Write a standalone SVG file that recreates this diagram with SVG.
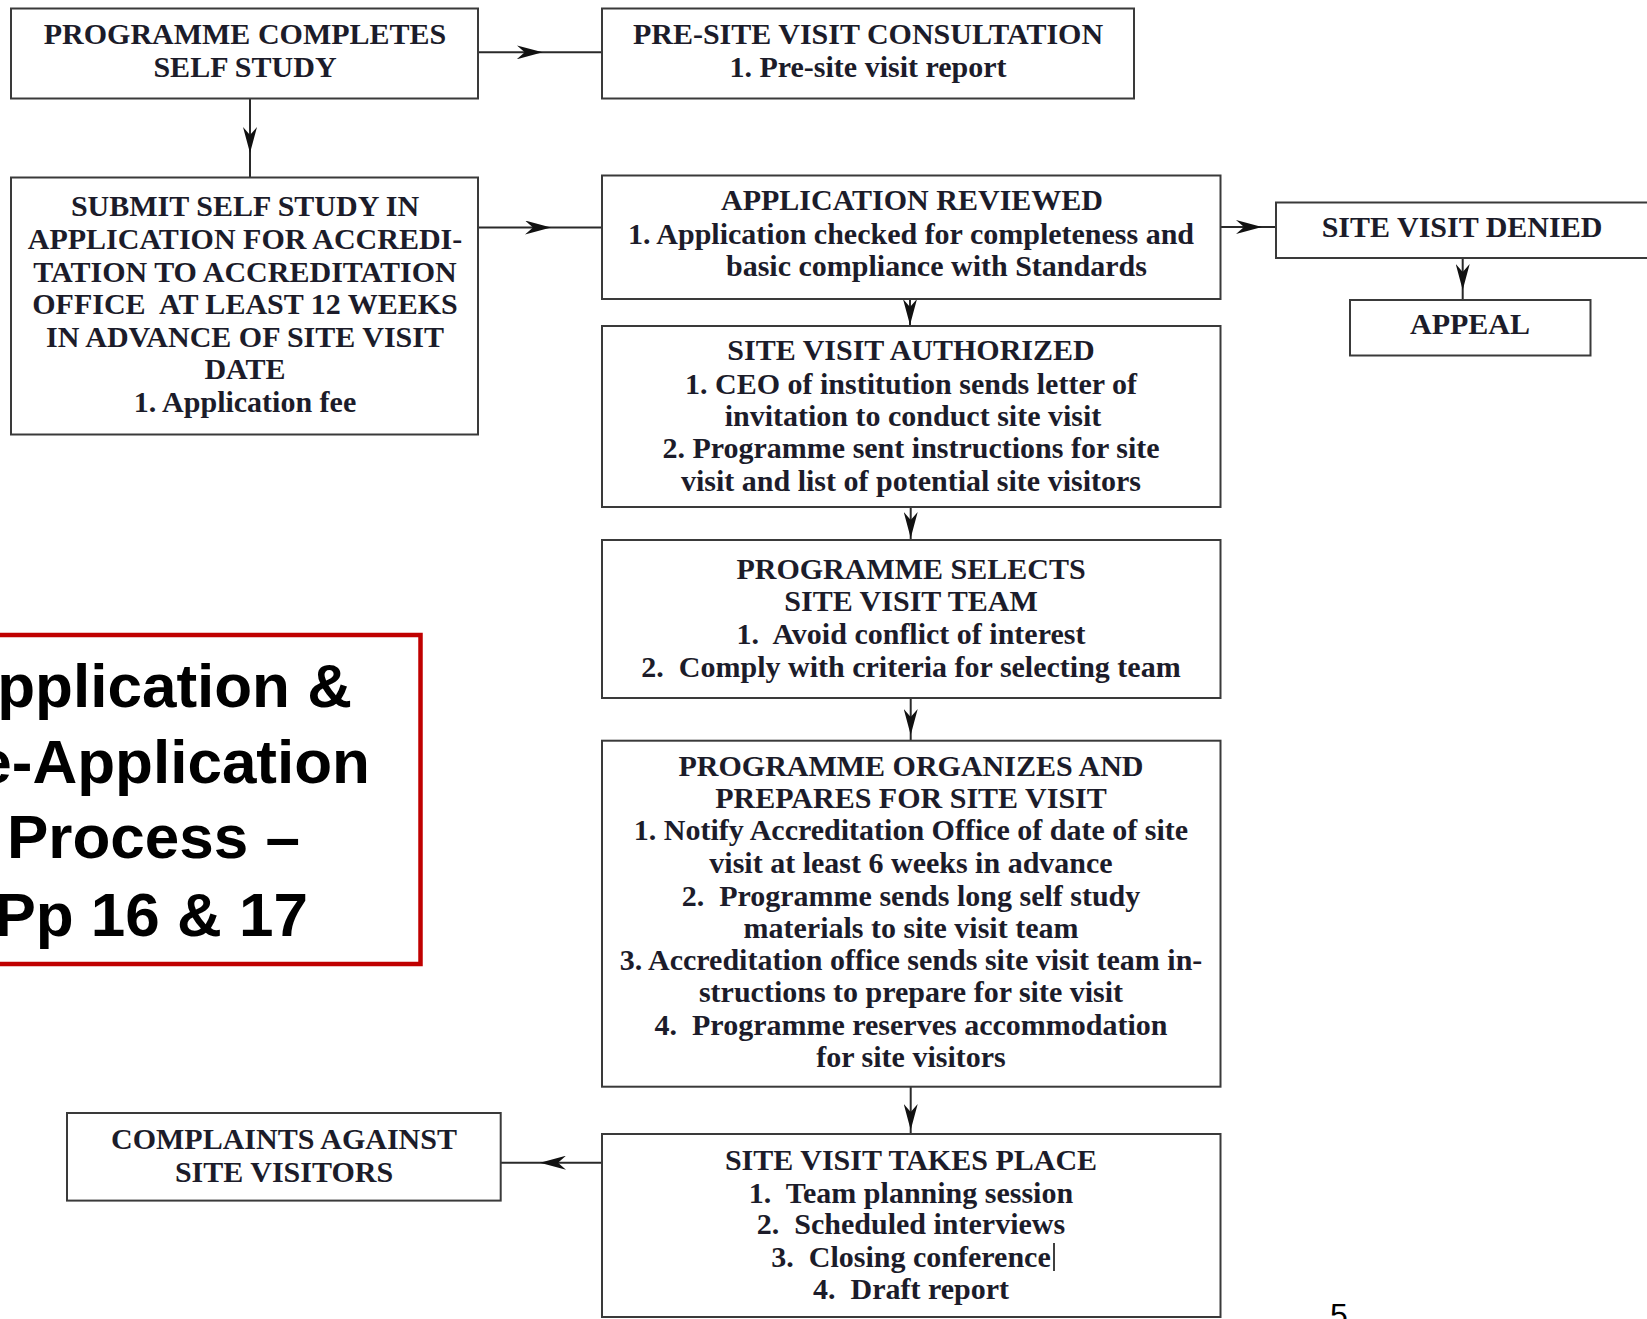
<svg xmlns="http://www.w3.org/2000/svg" width="1647" height="1319" viewBox="0 0 1647 1319">
<defs>
<style>
.box{fill:#fff;stroke:#3a3a3a;stroke-width:2}
.t{font-family:"Liberation Serif","Times New Roman",serif;font-weight:bold;font-size:30px;fill:#1c1c2a;text-anchor:middle;white-space:pre}
.ts{font-family:"Liberation Serif","Times New Roman",serif;font-weight:bold;font-size:30px;fill:#1c1c2a;text-anchor:start;white-space:pre}
.c{fill:none;stroke:#2a2a2a;stroke-width:2;marker-mid:url(#ah)}
.big{font-family:"Liberation Sans",Arial,sans-serif;font-weight:bold;font-size:62px;fill:#000;text-anchor:end}
</style>
<marker id="ah" viewBox="0 0 26 14" refX="26" refY="7" markerWidth="26" markerHeight="14" markerUnits="userSpaceOnUse" orient="auto">
<path d="M26,7 L0,0 L8,7 L0,14 Z" fill="#111"/>
</marker>
</defs>
<rect width="1647" height="1319" fill="#fff"/>

<g id="connectors">
<path class="c" d="M478,52.3 L542.7,52.3 L602,52.3"/>
<path class="c" d="M250,98.5 L250,153 L250,177.5"/>
<path class="c" d="M478,227.5 L551,227.5 L602,227.5"/>
<path class="c" d="M1220.5,227 L1262,227 L1276,227"/>
<path class="c" d="M1462.7,258 L1462.7,290 L1462.7,300"/>
<path class="c" d="M910,299 L910,325 L910,326"/>
<path class="c" d="M910.7,507 L910.7,538 L910.7,540"/>
<path class="c" d="M910.7,698 L910.7,735 L910.7,740.7"/>
<path class="c" d="M910.7,1086.7 L910.7,1130 L910.7,1134"/>
<path class="c" d="M602,1162.7 L540,1162.7 L500.7,1162.7"/>
</g>

<g id="n-completes">
<rect class="box" x="11" y="8.5" width="467" height="90"/>
<text class="t" x="245" y="44">PROGRAMME COMPLETES</text>
<text class="t" x="245" y="77">SELF STUDY</text>
</g>

<g id="n-presite">
<rect class="box" x="602" y="8.5" width="532" height="90"/>
<text class="t" x="868" y="44">PRE-SITE VISIT CONSULTATION</text>
<text class="t" x="868" y="77">1. Pre-site visit report</text>
</g>

<g id="n-submit">
<rect class="box" x="11" y="177.5" width="467" height="257"/>
<text class="t" x="245" y="216">SUBMIT SELF STUDY IN</text>
<text class="t" x="245" y="249">APPLICATION FOR ACCREDI-</text>
<text class="t" x="245" y="281.5">TATION TO ACCREDITATION</text>
<text class="t" x="245" y="314">OFFICE  AT LEAST 12 WEEKS</text>
<text class="t" x="245" y="347">IN ADVANCE OF SITE VISIT</text>
<text class="t" x="245" y="379">DATE</text>
<text class="t" x="245" y="412">1. Application fee</text>
</g>

<g id="n-reviewed">
<rect class="box" x="602" y="175.5" width="618.5" height="123.5"/>
<text class="t" x="912" y="210">APPLICATION REVIEWED</text>
<text class="t" x="911" y="244">1. Application checked for completeness and</text>
<text class="ts" x="726" y="276">basic compliance with Standards</text>
</g>

<g id="n-denied">
<rect class="box" x="1276" y="202.5" width="400" height="55.5"/>
<text class="t" x="1462" y="237">SITE VISIT DENIED</text>
</g>

<g id="n-appeal">
<rect class="box" x="1350" y="300" width="240.5" height="55.5"/>
<text class="t" x="1470" y="334">APPEAL</text>
</g>

<g id="n-authorized">
<rect class="box" x="602" y="326" width="618.5" height="181"/>
<text class="t" x="911" y="360">SITE VISIT AUTHORIZED</text>
<text class="t" x="911" y="394">1. CEO of institution sends letter of</text>
<text class="t" x="913" y="425.5">invitation to conduct site visit</text>
<text class="t" x="911" y="458">2. Programme sent instructions for site</text>
<text class="t" x="911" y="490.5">visit and list of potential site visitors</text>
</g>

<g id="n-selects">
<rect class="box" x="602" y="540" width="618.5" height="158"/>
<text class="t" x="911" y="579">PROGRAMME SELECTS</text>
<text class="t" x="911" y="611">SITE VISIT TEAM</text>
<text class="t" x="911" y="644">1.  Avoid conflict of interest</text>
<text class="t" x="911" y="676.5">2.  Comply with criteria for selecting team</text>
</g>

<g id="n-organizes">
<rect class="box" x="602" y="740.7" width="618.5" height="346"/>
<text class="t" x="911" y="776">PROGRAMME ORGANIZES AND</text>
<text class="t" x="911" y="808">PREPARES FOR SITE VISIT</text>
<text class="t" x="911" y="840">1. Notify Accreditation Office of date of site</text>
<text class="t" x="911" y="873">visit at least 6 weeks in advance</text>
<text class="t" x="911" y="905.5">2.  Programme sends long self study</text>
<text class="t" x="911" y="938">materials to site visit team</text>
<text class="t" x="911" y="969.5">3. Accreditation office sends site visit team in-</text>
<text class="t" x="911" y="1002">structions to prepare for site visit</text>
<text class="t" x="911" y="1035">4.  Programme reserves accommodation</text>
<text class="t" x="911" y="1067">for site visitors</text>
</g>

<g id="n-takesplace">
<rect class="box" x="602" y="1134" width="618.5" height="183"/>
<text class="t" x="911" y="1170">SITE VISIT TAKES PLACE</text>
<text class="t" x="911" y="1203">1.  Team planning session</text>
<text class="t" x="911" y="1234">2.  Scheduled interviews</text>
<text class="t" x="911" y="1267">3.  Closing conference</text>
<text class="t" x="911" y="1299">4.  Draft report</text>
<line x1="1054" y1="1243" x2="1054" y2="1271" stroke="#000" stroke-width="1.5"/>
</g>

<g id="n-complaints">
<rect class="box" x="67" y="1113" width="433.7" height="87.6"/>
<text class="t" x="284" y="1149">COMPLAINTS AGAINST</text>
<text class="t" x="284" y="1182">SITE VISITORS</text>
</g>

<g id="n-title">
<rect x="-10" y="635" width="430.5" height="329" fill="none" stroke="#c00000" stroke-width="4.5"/>
<text class="big" x="352" y="707">pplication &amp;</text>
<text class="big" x="370" y="783">e-Application</text>
<text class="big" x="300" y="858">Process –</text>
<text class="big" x="308" y="936">Pp 16 &amp; 17</text>
</g>

<text x="1330" y="1326" font-family="'Liberation Sans',Arial,sans-serif" font-size="32" fill="#000">5</text>
</svg>
